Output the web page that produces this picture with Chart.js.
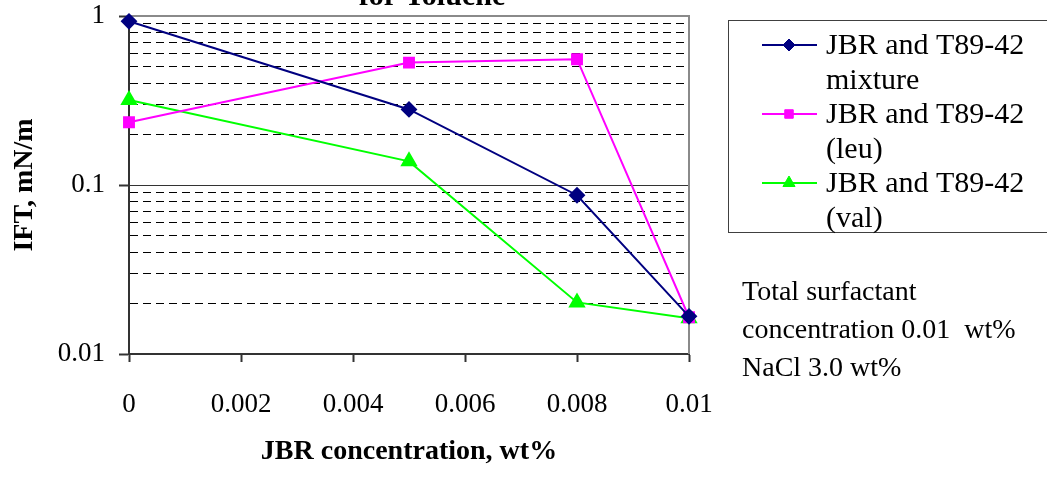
<!DOCTYPE html>
<html>
<head>
<meta charset="utf-8">
<script src="https://cdn.jsdelivr.net/npm/chart.js@4/dist/chart.umd.min.js"></script>
<style>
    html, body { margin: 0; padding: 0; background: #fff; }
    #wrap { width: 1047px; height: 491px; position: relative; }
</style>
</head>
<body>
<div id="wrap"><canvas id="iftChart" width="1047" height="491"></canvas></div>
<script>
// Data
const jbrConc = [0, 0.005, 0.008, 0.01];
const mixtureIft = [0.93, 0.28, 0.087, 0.0167];
const leuIft = [0.235, 0.53, 0.555, 0.0165];
const valIft = [0.318, 0.138, 0.0202, 0.0163];

const seriesNames = [
    ['JBR and T89-42', 'mixture'],
    ['JBR and T89-42', '(leu)'],
    ['JBR and T89-42', '(val)']
];
const xTicks = [0, 0.002, 0.004, 0.006, 0.008, 0.01];
const xTickLabels = ['0', '0.002', '0.004', '0.006', '0.008', '0.01'];
const yDecades = [0.01, 0.1, 1];
const yDecadeLabels = ['0.01', '0.1', '1'];
const noteLines = ['Total surfactant', 'concentration 0.01  wt%', 'NaCl 3.0 wt%'];
const chartTitle = 'for Toluene';

const serif = "'Liberation Serif', 'Times New Roman', serif";

function toPoints(values) {
    return jbrConc.map((x, i) => ({ x: x, y: values[i] }));
}

// minor ticks 2..9 inside each decade
function logTicks() {
    const ticks = [];
    for (let d = 0; d < yDecades.length; d++) {
        ticks.push({ value: yDecades[d] });
        if (d < yDecades.length - 1) {
            for (let m = 2; m <= 9; m++) ticks.push({ value: +(yDecades[d] * m).toPrecision(3) });
        }
    }
    return ticks;
}

function isDecade(v) {
    return yDecades.some(d => Math.abs(d - v) < d * 1e-6);
}

// solid lines at decades + plot frame + legend + notes + title
const decorations = {
    id: 'decorations',
    beforeDatasetsDraw(chart) {
        const ctx = chart.ctx;
        const area = chart.chartArea;
        const y = chart.scales.y;
        ctx.save();
        ctx.strokeStyle = '#333';
        ctx.lineWidth = 1;
        yDecades.forEach(d => {
            const py = Math.round(y.getPixelForValue(d)) + 0.5;
            if (py > area.top + 2 && py < area.bottom - 2) {
                ctx.beginPath();
                ctx.moveTo(area.left, py);
                ctx.lineTo(area.right, py);
                ctx.stroke();
            }
        });
        // top and right frame
        ctx.strokeStyle = '#8a8a8a';
        ctx.lineWidth = 2;
        ctx.beginPath();
        ctx.moveTo(area.left, area.top);
        ctx.lineTo(area.right, area.top);
        ctx.lineTo(area.right, area.bottom);
        ctx.stroke();
        ctx.restore();
    },
    afterDraw(chart) {
        const ctx = chart.ctx;
        ctx.save();

        // title (cut off at the top like the reference)
        ctx.fillStyle = '#000';
        ctx.font = 'bold 30px ' + serif;
        ctx.textAlign = 'center';
        ctx.textBaseline = 'alphabetic';
        ctx.fillText(chartTitle, 432, 5);

        // legend box
        ctx.strokeStyle = '#404040';
        ctx.lineWidth = 1;
        ctx.strokeRect(728.5, 20.5, 330, 212);
        ctx.font = '30px ' + serif;
        ctx.textAlign = 'left';
        ctx.textBaseline = 'middle';
        chart.data.datasets.forEach((ds, i) => {
            const rowY = 45 + i * 69;
            ctx.strokeStyle = ds.borderColor;
            ctx.lineWidth = 2;
            ctx.beginPath();
            ctx.moveTo(762, rowY);
            ctx.lineTo(817, rowY);
            ctx.stroke();
            ctx.fillStyle = '#000';
            seriesNames[i].forEach((line, j) => {
                ctx.fillText(line, 826, rowY + 1 + j * 35);
            });
            ctx.fillStyle = ds.backgroundColor;
            ctx.strokeStyle = ds.borderColor;
            ctx.lineWidth = 1;
            Chart.helpers.drawPoint(ctx, {
                pointStyle: ds.pointStyle,
                radius: ds.pointRadius - 1,
                borderWidth: 1
            }, 789, rowY);
        });

        // notes
        ctx.fillStyle = '#000';
        ctx.font = '28px ' + serif;
        noteLines.forEach((line, j) => {
            ctx.fillText(line, 742, 293 + j * 38);
        });
        ctx.restore();
    }
};

const ctx = document.getElementById('iftChart');
new Chart(ctx, {
    type: 'line',
    data: {
        datasets: [
            {
                label: seriesNames[0].join(' '),
                data: toPoints(mixtureIft),
                borderColor: '#000080',
                backgroundColor: '#000080',
                pointStyle: 'rectRot',
                pointRadius: 7,
                borderWidth: 2
            },
            {
                label: seriesNames[1].join(' '),
                data: toPoints(leuIft),
                borderColor: '#ff00ff',
                backgroundColor: '#ff00ff',
                pointStyle: 'rect',
                pointRadius: 7,
                borderWidth: 2
            },
            {
                label: seriesNames[2].join(' '),
                data: toPoints(valIft),
                borderColor: '#00ff00',
                backgroundColor: '#00ff00',
                pointStyle: 'triangle',
                pointRadius: 8,
                borderWidth: 2
            }
        ]
    },
    options: {
        responsive: false,
        animation: false,
        clip: false,
        layout: { padding: { left: 0, top: 16, right: 358, bottom: 0 } },
        elements: { line: { tension: 0 }, point: { borderWidth: 1 } },
        plugins: {
            legend: { display: false },
            tooltip: { enabled: false }
        },
        scales: {
            x: {
                type: 'linear',
                min: 0,
                max: 0.01,
                afterBuildTicks: scale => { scale.ticks = xTicks.map(v => ({ value: v })); },
                afterFit: scale => {
                    scale.height = 137;
                    scale.paddingLeft = 0;
                    scale.paddingRight = 0;
                },
                ticks: {
                    color: '#000',
                    font: { family: serif, size: 27 },
                    padding: 27,
                    maxRotation: 0,
                    callback: (v, i) => xTickLabels[i]
                },
                grid: {
                    drawOnChartArea: false,
                    tickLength: 8,
                    tickColor: '#333',
                    tickWidth: 2
                },
                border: { color: '#333', width: 2 },
                title: {
                    display: true,
                    text: 'JBR concentration, wt%',
                    color: '#000',
                    font: { family: serif, size: 28, weight: 'bold' },
                    padding: { top: 0, bottom: 22 }
                }
            },
            y: {
                type: 'logarithmic',
                min: 0.01,
                max: 1,
                afterBuildTicks: scale => { scale.ticks = logTicks(); },
                afterFit: scale => {
                    scale.width = 129;
                    scale.paddingTop = 0;
                    scale.paddingBottom = 0;
                },
                ticks: {
                    color: '#000',
                    font: { family: serif, size: 27 },
                    padding: 14,
                    autoSkip: false,
                    callback: v => {
                        const k = yDecades.findIndex(d => Math.abs(d - v) < d * 1e-6);
                        return k >= 0 ? yDecadeLabels[k] : '';
                    }
                },
                grid: {
                    color: ctx => (ctx.tick && isDecade(ctx.tick.value)) ? 'rgba(0,0,0,0)' : '#000',
                    lineWidth: 1,
                    tickLength: 10,
                    tickColor: ctx => (ctx.tick && isDecade(ctx.tick.value)) ? '#333' : 'rgba(0,0,0,0)',
                    tickWidth: 2
                },
                border: { color: '#333', width: 2, dash: [8, 5] },
                title: {
                    display: true,
                    text: 'IFT, mN/m',
                    color: '#000',
                    font: { family: serif, size: 28, weight: 'bold' },
                    padding: { top: 8, bottom: 0 }
                }
            }
        }
    },
    plugins: [decorations]
});
</script>
</body>
</html>
